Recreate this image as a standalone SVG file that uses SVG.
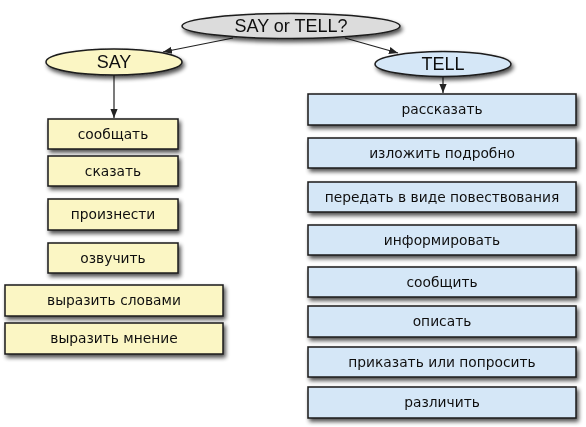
<svg xmlns="http://www.w3.org/2000/svg" width="586" height="427" viewBox="0 0 586 427">
<defs>
<filter id="sh" x="-10%" y="-30%" width="125%" height="180%">
<feGaussianBlur in="SourceAlpha" stdDeviation="2"/>
<feOffset dx="2" dy="3" result="b"/>
<feComponentTransfer><feFuncA type="linear" slope="0.7"/></feComponentTransfer>
<feMerge><feMergeNode/><feMergeNode in="SourceGraphic"/></feMerge>
</filter>
<marker id="ah" viewBox="0 0 10 10" refX="10" refY="5" markerWidth="9" markerHeight="9" markerUnits="userSpaceOnUse" orient="auto">
<path d="M0,1 L10,5 L0,9 z" fill="#222"/>
</marker>
</defs>
<style>
.y{fill:#FBF6C4;stroke:#1a1a1a;stroke-width:1.5}
.b{fill:#D5E7F7;stroke:#1a1a1a;stroke-width:1.5}
.g{fill:#DCDCDC;stroke:#1a1a1a;stroke-width:1.5}
.t{font-family:"DejaVu Sans",sans-serif;font-size:13.8px;fill:#111;text-anchor:middle}
.h{font-family:"Liberation Sans",Arial,sans-serif;font-size:18px;fill:#111;text-anchor:middle}
.c{stroke:#222;stroke-width:1.2;fill:none;marker-end:url(#ah)}
</style>
<rect width="586" height="427" fill="#fff"/>
<g id="connectors">
<path class="c" d="M233,38 L163,52"/>
<path class="c" d="M345,38 L398,53"/>
<path class="c" d="M114,75 L114,118"/>
<path class="c" d="M443,77 L443,93"/>
</g>
<g id="root" filter="url(#sh)"><ellipse class="g" cx="291" cy="26" rx="109" ry="12.5"/><text class="h" x="291" y="32">SAY or TELL?</text></g>
<g id="say" filter="url(#sh)"><ellipse class="y" cx="114" cy="62" rx="68" ry="13"/><text class="h" x="114" y="68">SAY</text></g>
<g id="tell" filter="url(#sh)"><ellipse class="b" cx="443" cy="64" rx="68" ry="12.5"/><text class="h" x="443" y="70">TELL</text></g>
<g id="s1" filter="url(#sh)"><rect class="y" x="48" y="119" width="130" height="30"/><text class="t" x="113" y="139">сообщать</text></g>
<g id="s2" filter="url(#sh)"><rect class="y" x="48" y="156" width="130" height="30"/><text class="t" x="113" y="176">сказать</text></g>
<g id="s3" filter="url(#sh)"><rect class="y" x="48" y="199" width="130" height="31"/><text class="t" x="113" y="219">произнести</text></g>
<g id="s4" filter="url(#sh)"><rect class="y" x="48" y="243" width="130" height="30"/><text class="t" x="113" y="263">озвучить</text></g>
<g id="s5" filter="url(#sh)"><rect class="y" x="5" y="285" width="218" height="31"/><text class="t" x="114" y="305">выразить словами</text></g>
<g id="s6" filter="url(#sh)"><rect class="y" x="5" y="323" width="218" height="31"/><text class="t" x="114" y="343">выразить мнение</text></g>
<g id="t1" filter="url(#sh)"><rect class="b" x="308" y="94" width="268" height="31"/><text class="t" x="442" y="114">рассказать</text></g>
<g id="t2" filter="url(#sh)"><rect class="b" x="308" y="138" width="268" height="30"/><text class="t" x="442" y="158">изложить подробно</text></g>
<g id="t3" filter="url(#sh)"><rect class="b" x="308" y="182" width="268" height="30"/><text class="t" x="442" y="202">передать в виде повествования</text></g>
<g id="t4" filter="url(#sh)"><rect class="b" x="308" y="225" width="268" height="30"/><text class="t" x="442" y="245">информировать</text></g>
<g id="t5" filter="url(#sh)"><rect class="b" x="308" y="267" width="268" height="30"/><text class="t" x="442" y="287">сообщить</text></g>
<g id="t6" filter="url(#sh)"><rect class="b" x="308" y="306" width="268" height="31"/><text class="t" x="442" y="326">описать</text></g>
<g id="t7" filter="url(#sh)"><rect class="b" x="308" y="347" width="268" height="30"/><text class="t" x="442" y="367">приказать или попросить</text></g>
<g id="t8" filter="url(#sh)"><rect class="b" x="308" y="387" width="268" height="31"/><text class="t" x="442" y="407">различить</text></g>
</svg>
